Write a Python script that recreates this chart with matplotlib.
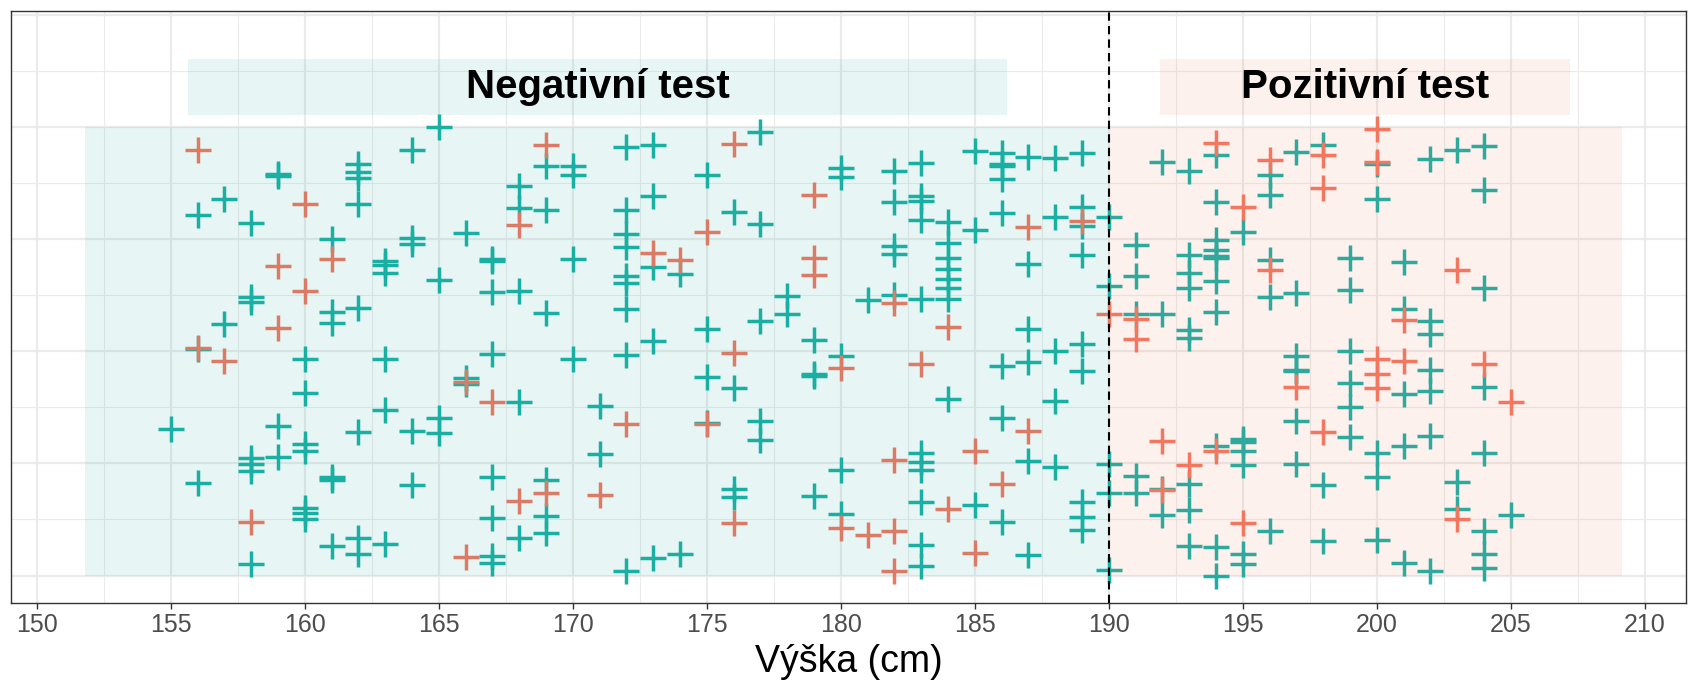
import matplotlib.pyplot as plt
from matplotlib.patches import Rectangle

# vyska (cm) a nahodny rozptyl na ose y
zdravi_x = [159, 159, 162, 162, 162, 162, 156, 157, 158, 161, 163, 163, 163, 158, 158, 161, 161, 162, 157, 156,
            165, 164, 169, 170, 170, 172, 168, 168, 169, 164, 164, 166, 167, 167, 170, 172, 172, 172, 172, 172,
            172, 165, 167, 168, 169,
            173, 177, 175, 180, 180, 182, 173, 182, 176, 177, 182, 182, 173, 174, 178, 178, 181, 182, 175, 177,
            173, 179,
            183, 185, 186, 186, 186, 186, 187, 188, 189, 183, 183, 183, 184, 184, 184, 184, 184, 184, 184, 185,
            186, 188, 189, 189, 190, 187, 189, 191, 191, 190, 183, 191, 187, 189,
            192, 193, 194, 196, 196, 197, 198, 200, 200, 194, 195, 194, 194, 194, 194, 194, 193, 193, 193, 196,
            196, 197, 199, 199, 192, 194, 193, 193,
            202, 203, 204, 204, 201, 204, 201, 202, 202,
            160, 163, 160, 163, 155, 159, 159, 160, 160, 162, 158, 158, 158, 156, 161, 161, 160, 160, 160, 161,
            162, 162, 163, 158,
            167, 170, 172, 166, 166, 168, 164, 165, 165, 171, 171, 164, 167, 169, 169, 169, 167, 168, 167, 167,
            172,
            180, 179, 179, 175, 176, 175, 177, 177, 176, 176, 180, 179, 180, 173, 174,
            186, 187, 188, 189, 184, 188, 186, 183, 183, 183, 187, 188, 190, 191, 191, 190, 183, 185, 186, 189,
            189, 189, 183, 183, 187, 190,
            197, 197, 197, 199, 199, 199, 197, 199, 194, 195, 195, 195, 195, 193, 193, 192, 192, 197, 198, 200,
            200, 196, 193, 194, 194, 195, 195, 198, 200,
            202, 202, 201, 204, 201, 202, 204, 203, 203, 205, 204, 204, 204, 201, 202]
zdravi_y = [0.895, 0.891, 0.917, 0.899, 0.886, 0.828, 0.803, 0.839, 0.787, 0.750, 0.702, 0.692, 0.674, 0.620, 0.610,
            0.588, 0.563, 0.597, 0.560, 0.504,
            0.999, 0.949, 0.912, 0.913, 0.892, 0.956, 0.868, 0.820, 0.816, 0.752, 0.739, 0.763, 0.706, 0.701,
            0.705, 0.816, 0.761, 0.733, 0.668, 0.652, 0.594, 0.658, 0.632, 0.634, 0.585,
            0.961, 0.990, 0.893, 0.909, 0.889, 0.903, 0.847, 0.833, 0.811, 0.783, 0.735, 0.716, 0.687, 0.672,
            0.623, 0.583, 0.615, 0.625, 0.549, 0.568, 0.523, 0.525,
            0.919, 0.947, 0.943, 0.918, 0.913, 0.883, 0.934, 0.932, 0.941, 0.846, 0.835, 0.793, 0.788, 0.742,
            0.707, 0.683, 0.662, 0.642, 0.616, 0.770, 0.808, 0.799, 0.822, 0.779, 0.799, 0.694, 0.715, 0.737,
            0.668, 0.646, 0.616, 0.582, 0.549, 0.517,
            0.923, 0.902, 0.938, 0.892, 0.848, 0.944, 0.959, 0.917, 0.839, 0.833, 0.766, 0.747, 0.725, 0.712,
            0.707, 0.657, 0.715, 0.674, 0.640, 0.704, 0.621, 0.629, 0.707, 0.636, 0.582, 0.588, 0.547, 0.530,
            0.929, 0.949, 0.958, 0.860, 0.698, 0.640, 0.594, 0.568, 0.539,
            0.482, 0.482, 0.406, 0.370, 0.327, 0.333, 0.264, 0.294, 0.277, 0.320, 0.262, 0.248, 0.233, 0.207,
            0.220, 0.214, 0.151, 0.140, 0.125, 0.066, 0.083, 0.047, 0.071, 0.026,
            0.495, 0.482, 0.491, 0.441, 0.427, 0.386, 0.322, 0.352, 0.318, 0.379, 0.272, 0.201, 0.219, 0.212,
            0.132, 0.094, 0.129, 0.083, 0.043, 0.028, 0.010,
            0.489, 0.449, 0.445, 0.443, 0.418, 0.340, 0.344, 0.302, 0.194, 0.175, 0.235, 0.178, 0.138, 0.040,
            0.049,
            0.467, 0.476, 0.500, 0.456, 0.394, 0.390, 0.352, 0.274, 0.253, 0.235, 0.256, 0.242, 0.248, 0.222,
            0.183, 0.183, 0.164, 0.158, 0.120, 0.164, 0.131, 0.101, 0.069, 0.022, 0.045, 0.013,
            0.489, 0.459, 0.455, 0.500, 0.430, 0.376, 0.344, 0.308, 0.288, 0.305, 0.297, 0.277, 0.246, 0.203,
            0.146, 0.193, 0.135, 0.249, 0.201, 0.274, 0.220, 0.100, 0.065, 0.063, 0.000, 0.047, 0.025, 0.078,
            0.080,
            0.459, 0.411, 0.404, 0.420, 0.288, 0.311, 0.274, 0.209, 0.149, 0.135, 0.099, 0.048, 0.016, 0.028,
            0.011]

nemocni_x = [156, 160, 161, 159, 160, 159, 156,
             169, 168,
             176, 179, 175, 173, 174, 179, 179, 182,
             184, 187, 189, 190, 191, 191,
             194, 196, 198, 198, 200, 200, 195, 196,
             203, 201,
             157, 158,
             166, 167, 172, 168, 169, 171, 166,
             176, 180, 175, 176, 180, 181, 182, 182, 182,
             183, 187, 185, 186, 184, 185,
             197, 200, 200, 200, 198, 192, 194, 193, 192, 195,
             201, 204, 205, 203]
nemocni_y = [0.948, 0.829, 0.705, 0.690, 0.635, 0.552, 0.507,
             0.961, 0.781,
             0.963, 0.848, 0.766, 0.720, 0.704, 0.709, 0.671, 0.608,
             0.553, 0.778, 0.790, 0.582, 0.571, 0.527,
             0.964, 0.926, 0.937, 0.863, 0.996, 0.921, 0.822, 0.681,
             0.681, 0.569,
             0.478, 0.119,
             0.432, 0.386, 0.337, 0.167, 0.184, 0.179, 0.042,
             0.496, 0.463, 0.338, 0.116, 0.106, 0.090, 0.257, 0.100, 0.011,
             0.472, 0.323, 0.277, 0.203, 0.149, 0.051,
             0.421, 0.482, 0.450, 0.417, 0.320, 0.300, 0.277, 0.246, 0.190, 0.117,
             0.478, 0.472, 0.387, 0.127]

hranice = 190
oblasti = [(151.8, hranice), (hranice, 209.15)]
popisky = ['Negativní test', 'Pozitivní test']
popisky_x = [(155.66, 186.2), (191.9, 207.2)]
xticks = list(range(150, 215, 5))

tyrkys = '#19AFA2'
losos = '#F3765F'

fig = plt.figure(figsize=(16.98, 6.83), dpi=100)
ax = fig.add_axes([11 / 1698, 80 / 683, 1675 / 1698, 592 / 683])

ax.set_xlim(149.04, 211.54)
ax.set_ylim(-0.0613, 1.2587)

# mrizka
for x in range(150, 212, 5):
    ax.axvline(x, color='#EBEBEB', lw=1.6, zorder=0)
    ax.axvline(x + 2.5, color='#EBEBEB', lw=0.85, zorder=0)
for i in range(6):
    ax.axhline(i * 0.25, color='#EBEBEB', lw=1.6, zorder=0)
    ax.axhline(i * 0.25 - 0.125, color='#EBEBEB', lw=0.85, zorder=0)

ax.plot(zdravi_x, zdravi_y, ls='none', marker='+', ms=19, mew=2.5, color=tyrkys, zorder=2)
ax.plot(nemocni_x, nemocni_y, ls='none', marker='+', ms=19, mew=2.5, color=losos, zorder=2)

# barevne oblasti pres body
for (x0, x1), c in zip(oblasti, [tyrkys, losos]):
    ax.add_patch(Rectangle((x0, 0), x1 - x0, 1, facecolor=c, alpha=0.1, lw=0, zorder=3))
for (x0, x1), c, t in zip(popisky_x, [tyrkys, losos], popisky):
    ax.add_patch(Rectangle((x0, 1.027), x1 - x0, 0.125, facecolor=c, alpha=0.1, lw=0, zorder=3))
    ax.text((x0 + x1) / 2, 1.09, t, ha='center', va='center', fontsize=29, fontweight='bold',
            family='Liberation Sans', zorder=4)

ax.axvline(hranice, color='black', lw=1.5, ls=(0, (4, 2.5)), zorder=5)

ax.set_xticks(xticks)
ax.set_xticklabels([str(t) for t in xticks], fontsize=18, color='#4D4D4D', family='Liberation Sans')
ax.set_yticks([])
ax.tick_params(axis='x', length=4, width=1, color='#333333', pad=3)
ax.set_xlabel('Výška (cm)', fontsize=27, family='Liberation Sans', labelpad=5)
for s in ax.spines.values():
    s.set_color('#333333')
    s.set_linewidth(1)

fig.savefig('out.png', dpi=100)
